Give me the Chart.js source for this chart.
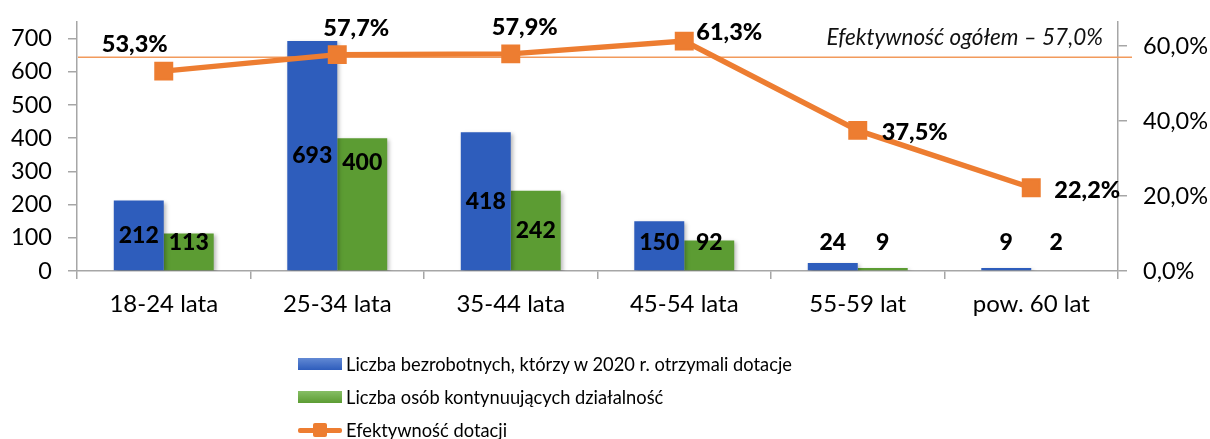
<!DOCTYPE html>
<html>
<head>
<meta charset="utf-8">
<script src="https://cdn.jsdelivr.net/npm/chart.js@4/dist/chart.umd.min.js"></script>
<style>
  html, body { margin: 0; padding: 0; background: #fff; }
  #wrap { position: relative; width: 1210px; height: 439px; overflow: hidden; }
  canvas { position: absolute; left: 0; top: 0; }
  #legend { position: absolute; left: 298px; top: 347px; font-family: Lato, sans-serif; font-size: 18.3px; color: #000; }
  .row { height: 33px; display: flex; align-items: center; white-space: nowrap; }
  .sw { width: 44px; height: 12px; margin-right: 4px; position: relative; }
  .sw.line::before { content: ""; position: absolute; left: 0; right: 0; top: 4px; height: 5px; background: #ED7D31; border-radius: 2px; }
  .sw.line::after { content: ""; position: absolute; left: 15px; top: -1px; width: 14px; height: 14px; background: #ED7D31; border-radius: 2px; }
</style>
</head>
<body>
<div id="wrap">
  <canvas id="c" width="1210" height="439"></canvas>
  <div id="legend"></div>
</div>
<script>
const categories = ['18-24 lata', '25-34 lata', '35-44 lata', '45-54 lata', '55-59 lat', 'pow. 60 lat'];
const recipients = [212, 693, 418, 150, 24, 9];
const continuing = [113, 400, 242, 92, 9, 2];
const efficiency = [53.3, 57.7, 57.9, 61.3, 37.5, 22.2];
const overallEfficiency = 57.0;
const leftTicks = [0, 100, 200, 300, 400, 500, 600, 700];
const rightTicks = [0, 20, 40, 60];
const seriesNames = [
  'Liczba bezrobotnych, którzy w 2020 r. otrzymali dotacje',
  'Liczba osób kontynuujących działalność',
  'Efektywność dotacji'
];
const overallLabel = 'Efektywność ogółem – 57,0%';

const FONT = 'Lato, "Noto Sans", sans-serif';
const fmtPct = v => v.toFixed(1).replace('.', ',') + '%';

function barGrad(top, bottom) {
  return function (c) {
    const chart = c.chart;
    const el = c.element;
    if (!chart.chartArea || !el || el.y === undefined) return bottom;
    const g = chart.ctx.createLinearGradient(0, el.y, 0, el.base);
    g.addColorStop(0, top);
    g.addColorStop(1, bottom);
    return g;
  };
}

const lineLabelOffsets = [[-29, -27], [19, -26], [14, -26], [45, -9], [57, 2], [56, 3]];

const labelsPlugin = {
  id: 'labelsPlugin',
  beforeDatasetDraw(chart, args) {
    const ctx = chart.ctx;
    if (args.meta.type === 'bar') {
      ctx.save();
      ctx.shadowColor = 'rgba(0,0,0,0.28)';
      ctx.shadowBlur = 4;
      ctx.shadowOffsetX = 2;
      ctx.shadowOffsetY = 2;
    }
    if (args.index === 2) {
      const y = chart.scales.y1.getPixelForValue(overallEfficiency);
      ctx.save();
      ctx.strokeStyle = '#F29A5C';
      ctx.lineWidth = 1.6;
      ctx.beginPath();
      ctx.moveTo(chart.chartArea.left + 1, y);
      ctx.lineTo(chart.chartArea.right + 14, y);
      ctx.stroke();
      ctx.font = 'italic 22.5px ' + FONT;
      ctx.fillStyle = '#111';
      ctx.textAlign = 'right';
      ctx.textBaseline = 'middle';
      ctx.fillText(overallLabel, chart.chartArea.right - 15, y - 20);
      ctx.restore();
    }
  },
  afterDatasetDraw(chart, args) {
    if (args.meta.type === 'bar') chart.ctx.restore();
  },
  afterDatasetsDraw(chart) {
    const ctx = chart.ctx;
    const base = chart.scales.y.getPixelForValue(0);
    ctx.save();
    ctx.fillStyle = '#000';
    ctx.font = '900 23px ' + FONT;
    ctx.textAlign = 'center';
    ctx.textBaseline = 'middle';
    [0, 1].forEach(di => {
      const meta = chart.getDatasetMeta(di);
      meta.data.forEach((bar, i) => {
        let y = (bar.y + base) / 2;
        if (y > base - 28) y = base - 28;
        if (di === 1 && i === 1) y -= 42;
        ctx.fillText(String(chart.data.datasets[di].data[i]), bar.x, y);
      });
    });
    ctx.font = '900 23.5px ' + FONT;
    const lm = chart.getDatasetMeta(2);
    lm.data.forEach((pt, i) => {
      const o = lineLabelOffsets[i];
      ctx.fillText(fmtPct(efficiency[i]), pt.x + o[0], pt.y + o[1]);
    });
    ctx.restore();
  }
};

const axisColor = '#A6A6A6';
function noPad(s) { s.paddingTop = 0; s.paddingBottom = 0; }

const chart = new Chart(document.getElementById('c'), {
  type: 'bar',
  data: {
    labels: categories,
    datasets: [
      {
        label: seriesNames[0], data: recipients, yAxisID: 'y', order: 1,
        backgroundColor: barGrad('#6289D4', '#2E5DBC'),
        categoryPercentage: 0.576, barPercentage: 1
      },
      {
        label: seriesNames[1], data: continuing, yAxisID: 'y', order: 1,
        backgroundColor: barGrad('#86BE65', '#5C9C33'),
        categoryPercentage: 0.576, barPercentage: 1
      },
      {
        type: 'line', label: seriesNames[2], data: efficiency, yAxisID: 'y1', order: 0,
        borderColor: '#ED7D31', backgroundColor: '#ED7D31', borderWidth: 5.5,
        pointStyle: 'rect', pointRadius: 12, pointHoverRadius: 12,
        pointBorderWidth: 2, pointBorderColor: '#ED7D31', pointBackgroundColor: '#ED7D31',
        tension: 0, fill: false, clip: false
      }
    ]
  },
  options: {
    responsive: false,
    animation: false,
    devicePixelRatio: 1,
    layout: { autoPadding: false, padding: { top: 22, left: 0, right: 0, bottom: 0 } },
    plugins: { legend: { display: false }, tooltip: { enabled: false } },
    scales: {
      x: {
        offset: true,
        grid: { display: true, drawOnChartArea: false, offset: true, tickLength: 8, color: axisColor, lineWidth: 1.5 },
        border: { display: true, color: axisColor, width: 1.5 },
        ticks: { font: { family: FONT, size: 24 }, color: '#000', padding: 11, maxRotation: 0 },
        afterFit(s) { s.height = 168; s.paddingLeft = 0; s.paddingRight = 0; }
      },
      y: {
        position: 'left', min: 0, max: 750,
        afterBuildTicks(s) { s.ticks = leftTicks.map(v => ({ value: v })); },
        grid: { display: true, drawOnChartArea: false, tickLength: 9, color: axisColor, lineWidth: 1.5 },
        border: { display: true, color: axisColor, width: 1.5 },
        ticks: { font: { family: FONT, size: 23.5 }, color: '#000', padding: 16, callback: v => String(v) },
        afterFit(s) { s.width = 77; noPad(s); }
      },
      y1: {
        position: 'right', min: 0, max: 66.4,
        afterBuildTicks(s) { s.ticks = rightTicks.map(v => ({ value: v })); },
        grid: { display: true, drawOnChartArea: false, tickLength: 9, color: axisColor, lineWidth: 1.5 },
        border: { display: true, color: axisColor, width: 1.5 },
        ticks: { font: { family: FONT, size: 23.5 }, color: '#000', padding: 16, callback: v => fmtPct(v) },
        afterFit(s) { s.width = 92; noPad(s); }
      }
    }
  },
  plugins: [labelsPlugin]
});

const legend = document.getElementById('legend');
const swatches = [
  'background: linear-gradient(#6289D4, #2E5DBC);',
  'background: linear-gradient(#86BE65, #5C9C33);',
  ''
];
seriesNames.forEach((name, i) => {
  const row = document.createElement('div');
  row.className = 'row';
  const sw = document.createElement('span');
  sw.className = 'sw' + (i === 2 ? ' line' : '');
  if (swatches[i]) sw.setAttribute('style', swatches[i]);
  const tx = document.createElement('span');
  tx.textContent = name;
  row.appendChild(sw);
  row.appendChild(tx);
  legend.appendChild(row);
});
</script>
</body>
</html>
